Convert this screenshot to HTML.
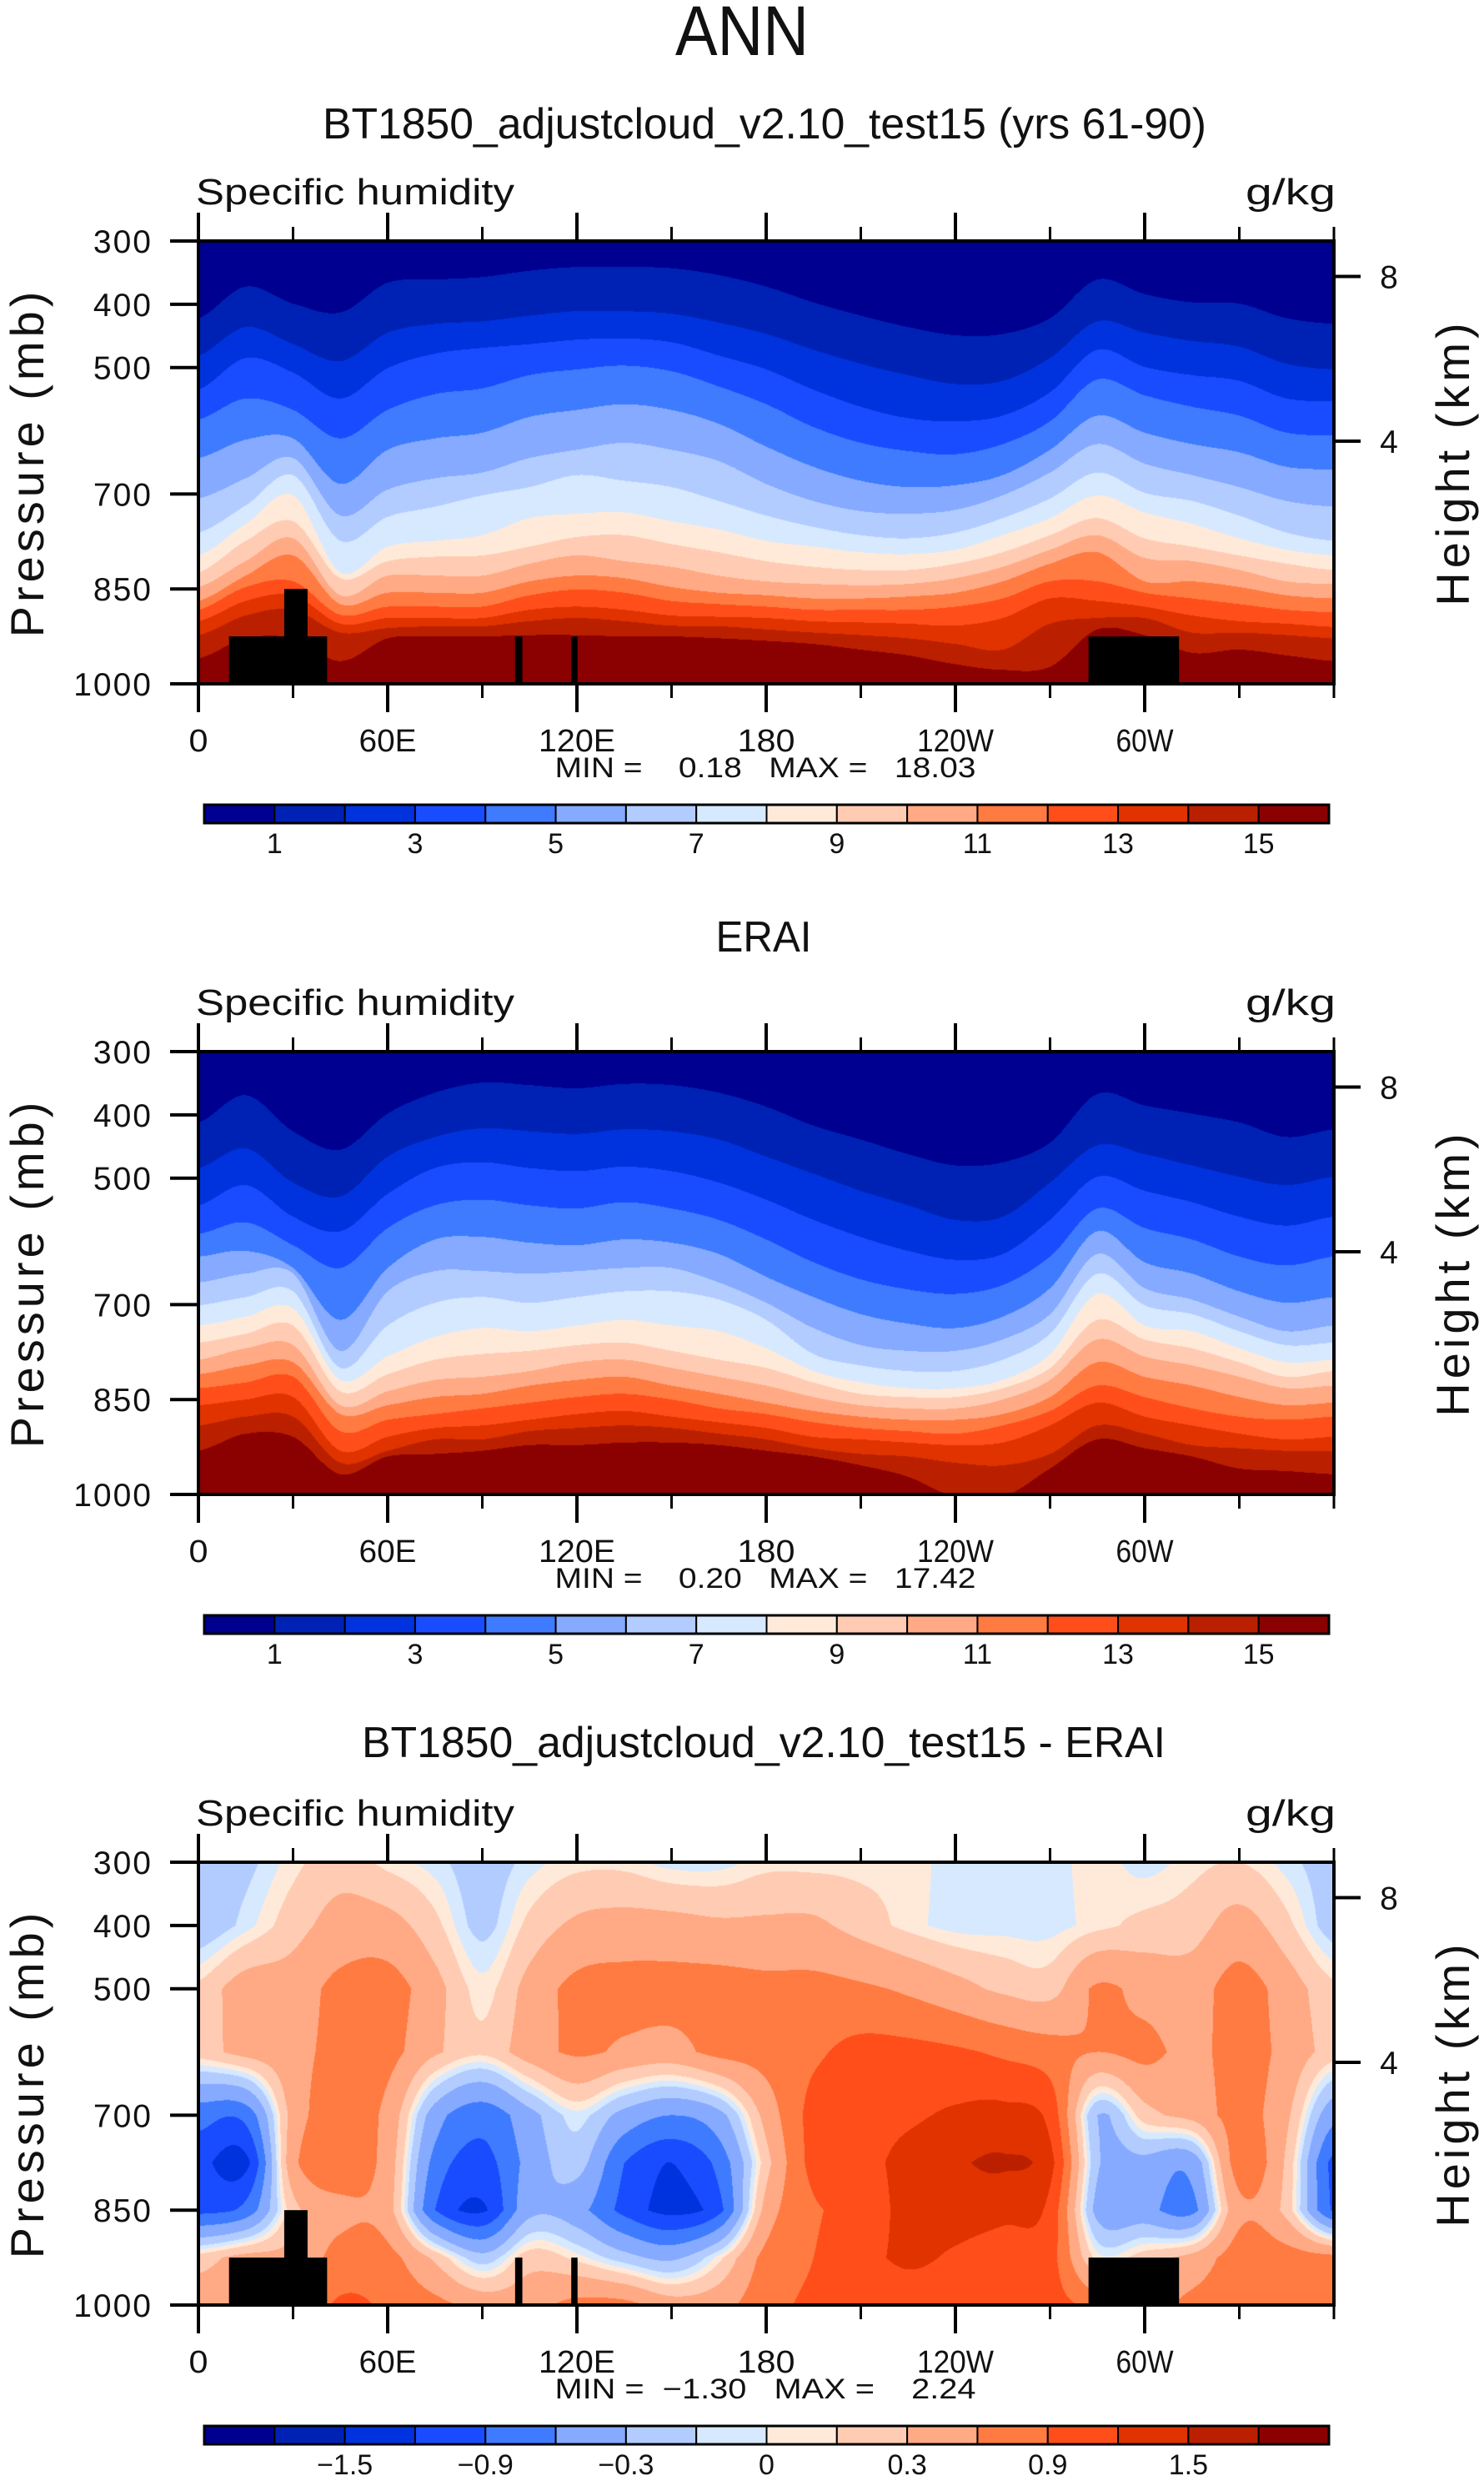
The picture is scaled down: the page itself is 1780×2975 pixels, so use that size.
<!DOCTYPE html>
<html><head><meta charset="utf-8">
<style>
html,body{margin:0;padding:0;background:#fff;}
#wrap{position:relative;width:1780px;height:2975px;overflow:hidden;}
canvas{position:absolute;}
svg{position:absolute;left:0;top:0;}
text{font-family:"Liberation Sans",sans-serif;fill:#111;}
</style></head>
<body>
<div id="wrap">
<canvas id="c1" width="1362" height="531" style="left:238px;top:289px"></canvas>
<canvas id="c2" width="1362" height="531" style="left:238px;top:1261px"></canvas>
<canvas id="c3" width="1362" height="531" style="left:238px;top:2233px"></canvas>
<svg id="svg" width="1780" height="2975" viewBox="0 0 1780 2975" xmlns="http://www.w3.org/2000/svg">
<text x="890" y="66" text-anchor="middle" font-size="84" textLength="160" lengthAdjust="spacingAndGlyphs">ANN</text>
<text x="917" y="166" text-anchor="middle" font-size="52" textLength="1060" lengthAdjust="spacingAndGlyphs">BT1850_adjustcloud_v2.10_test15 (yrs 61-90)</text>
<text x="916" y="1141" text-anchor="middle" font-size="52" textLength="115" lengthAdjust="spacingAndGlyphs">ERAI</text>
<text x="916" y="2107" text-anchor="middle" font-size="52" textLength="964" lengthAdjust="spacingAndGlyphs">BT1850_adjustcloud_v2.10_test15 - ERAI</text>
<g id="layer"></g>
</svg>
</div>
<script>
// ---------- data ----------
const lons = [0,15,30,45,60,75,90,105,120,135,150,165,180,195,210,225,240,255,270,285,300,315,330,345,360];
// pressure (mb) of the q = 1..15 g/kg isolines, model
const modelIso = [
[422,372,399,413,366,361,357,347,341,341,343,354,372,397,418,436,449,447,422,361,384,397,399,422,431],
[481,436,463,490,445,431,427,418,411,411,415,429,447,472,494,512,526,521,485,427,445,458,467,494,503],
[535,485,508,549,501,478,469,463,456,454,460,481,503,535,562,580,585,576,539,472,499,512,521,549,553],
[582,549,567,612,567,542,533,512,503,497,506,530,558,594,619,632,637,621,585,519,544,562,576,603,607],
[643,614,612,684,630,612,603,578,567,558,567,589,625,657,679,689,686,670,630,576,603,621,634,657,661],
[707,675,643,734,693,675,666,643,630,619,630,648,684,711,727,731,725,702,666,621,652,670,689,711,720],
[761,718,670,774,736,720,702,689,670,679,689,711,734,752,765,770,761,738,707,666,698,711,734,761,774],
[797,747,702,824,783,774,765,738,731,729,743,756,774,783,792,795,788,765,738,702,729,747,770,788,797],
[824,774,743,833,806,799,797,783,768,765,779,792,806,815,820,820,810,792,765,738,770,783,797,810,820],
[847,806,770,860,829,829,829,810,797,806,815,829,838,842,844,842,833,815,788,765,801,806,820,838,842],
[869,829,797,874,856,856,856,838,829,833,847,856,860,865,865,862,856,838,810,792,838,838,847,860,865],
[883,847,838,891,878,878,878,860,851,856,869,874,878,883,883,883,878,865,838,838,856,865,874,883,887],
[901,869,860,905,896,896,896,883,878,883,892,894,896,901,903,905,908,896,865,869,878,892,901,905,910],
[923,892,883,919,912,909,909,901,896,901,908,909,914,919,923,928,937,946,905,896,896,919,919,923,928],
[960,928,928,964,928,925,925,923,923,925,925,928,932,937,946,955,969,978,973,914,923,951,946,955,964]
];
// pressure (mb) of the q = 1..15 g/kg isolines, ERAI
const eraiIso = [
[412,369,426,455,398,365,349,353,358,351,353,365,387,417,439,462,480,475,444,367,385,398,412,435,423],
[484,453,507,529,466,435,421,426,430,423,426,439,466,493,520,543,566,561,507,448,462,480,498,511,498],
[543,511,561,584,525,484,475,484,489,482,489,507,534,566,593,615,629,620,566,498,520,538,561,575,561],
[588,570,606,642,579,543,534,543,548,538,548,566,597,633,660,676,683,669,624,548,579,597,624,638,624],
[624,615,642,724,642,597,593,602,606,597,602,620,656,688,715,730,737,719,674,584,633,651,679,697,688],
[665,651,651,773,679,647,647,651,647,642,642,665,697,737,764,773,773,755,715,620,674,692,719,742,733],
[701,688,679,800,733,697,688,697,688,679,679,692,724,778,796,805,805,787,746,651,701,715,742,764,760],
[733,719,706,819,782,751,737,742,733,724,733,742,769,805,823,832,832,819,778,683,733,742,769,791,787],
[760,746,733,837,810,787,778,773,764,760,773,787,800,823,841,846,846,832,800,724,755,769,791,814,805],
[787,769,764,859,837,819,814,805,791,787,800,814,828,846,859,864,864,850,819,755,782,796,814,832,828],
[810,796,791,873,859,846,841,828,819,814,828,841,855,868,877,882,882,873,846,791,814,828,846,859,855],
[832,823,814,900,882,873,864,855,846,841,850,864,873,886,895,900,904,891,868,828,846,864,877,882,877],
[859,850,846,931,909,895,891,882,873,868,877,886,895,909,913,918,922,918,891,855,877,891,904,913,909],
[891,877,877,950,931,913,913,900,895,891,895,904,913,927,936,940,950,954,936,891,904,922,927,931,931],
[931,904,909,968,940,936,931,922,922,918,918,922,931,940,954,972,1004,1004,959,913,927,940,959,963,968]
];
// difference (g/kg) on a lon x pressure grid
const diffLevels = [300,400,500,600,700,775,850,925,1000];
const diffValues = [
[-0.25,-0.15,0.05,0.2,0.05,-0.05,-0.2,-0.05,0.05,0.05,-0.05,-0.05,0.05,0.05,0.05,0.05,-0.05,-0.05,-0.05,0.05,-0.05,0.05,0.1,-0.05,-0.2],
[-0.25,-0.05,0.2,0.4,0.4,0.15,-0.15,0.15,0.35,0.4,0.4,0.35,0.35,0.35,0.2,0.05,-0.05,-0.05,-0.05,0.05,0.15,0.2,0.4,0.15,-0.2],
[0.15,0.45,0.45,0.7,0.75,0.4,0.05,0.4,0.7,0.75,0.75,0.75,0.7,0.7,0.65,0.55,0.4,0.25,0.2,0.65,0.5,0.45,0.75,0.45,0.15],
[0.2,0.4,0.5,0.7,0.7,0.35,0.15,0.45,0.65,0.55,0.5,0.7,0.75,0.85,1.0,1.0,0.95,0.85,0.75,0.6,0.7,0.5,0.75,0.5,0.2],
[-0.8,-0.8,0.4,0.75,0.5,-0.45,-0.8,-0.4,-0.05,-0.4,-0.6,-0.4,0.4,1.0,1.1,1.15,1.25,1.3,1.1,-0.3,0.2,0.4,0.7,0.35,-0.5],
[-1.1,-1.3,0.5,0.8,0.45,-0.7,-1.0,-0.5,-0.2,-0.9,-1.2,-0.8,0.2,1.0,1.1,1.3,1.45,1.55,1.3,-0.25,-0.4,-0.5,0.75,0.25,-1.0],
[-1.0,-0.8,0.2,0.5,0.4,-0.9,-1.25,-0.4,-0.5,-1.0,-1.3,-1.0,0.4,0.85,1.0,1.3,1.35,1.3,1.1,-0.4,-0.5,-0.7,0.5,0.2,-0.95],
[0.2,0.4,0.4,0.7,0.7,0.25,-0.2,0.2,0.05,-0.2,-0.35,0.05,0.7,0.9,1.1,1.25,1.15,1.0,1.0,0.05,0.2,0.4,0.75,0.75,0.7],
[0.5,0.6,0.6,0.95,0.85,0.7,0.5,0.5,0.7,0.7,0.45,0.5,0.8,0.95,1.0,1.05,1.0,0.95,1.0,0.8,0.5,0.7,0.8,0.8,0.75]
];
const diffBounds = [-1.8,-1.5,-1.2,-0.9,-0.6,-0.3,-0.1,0,0.1,0.3,0.6,0.9,1.2,1.5,1.8];
// topography masks: [lonStart, lonEnd, surface pressure]
const topoStart = [9.7,27.2,100.4,118.2,282.2];
const topoEnd = [40.8,34.6,102.7,120.2,310.9];
const topoP = [925,850,925,925,925];
const pressureTicks = [300,400,500,700,850,1000];
const heightTicks = [8,4];
const lonTickVals = [0,60,120,180,240,300];
const lonTickLabels = ["0","60E","120E","180","120W","60W"];
const lonMinor = [30,90,150,210,270,330,360];
const qLabels = ["1","3","5","7","9","11","13","15"];
const qLabelIdx = [1,3,5,7,9,11,13,15];
const dLabels = ["\u22121.5","\u22120.9","\u22120.3","0","0.3","0.9","1.5"];
const dLabelIdx = [2,4,6,8,10,12,14];
const colors = ["#000090","#0022B4","#0033DD","#1A4CFF","#3F7BFF","#85AAFF","#B3CCFF","#D6E9FF","#FFEADA","#FFCCB3","#FFAA85","#FF7B42","#FF4E1A","#E03300","#BA2000","#8B0000"];

// ---------- geometry ----------
const L = 238, W = 1362, H = 531;
const tops = [289,1261,2233];
const xOf = lon => L + lon / 360 * W;
const yOf = (top, p) => top + (p - 300) / 700 * H;
const rgb = colors.map(c => [parseInt(c.substr(1,2),16),parseInt(c.substr(3,2),16),parseInt(c.substr(5,2),16)]);

function cr(arr, lon){
  const t = lon / 15; let i = Math.floor(t); if (i >= 24) i = 23; const f = t - i;
  const p0 = arr[Math.max(i-1,0)], p1 = arr[i], p2 = arr[i+1], p3 = arr[Math.min(i+2,24)];
  return 0.5*((2*p1)+(-p0+p2)*f+(2*p0-5*p1+4*p2-p3)*f*f+(-p0+3*p1-3*p2+p3)*f*f*f);
}
function drawIso(id, iso){
  const cv = document.getElementById(id), ctx = cv.getContext('2d');
  const img = ctx.createImageData(W, H), d = img.data;
  for (let x = 0; x < W; x++){
    const lon = (x + 0.5) / W * 360;
    const ps = iso.map(a => cr(a, lon));
    for (let y = 0; y < H; y++){
      const p = 300 + (y + 0.5) / H * 700;
      let b = 0; for (let k = 0; k < ps.length; k++) if (p >= ps[k]) b++;
      const c = rgb[b], o = (y*W + x)*4;
      d[o]=c[0]; d[o+1]=c[1]; d[o+2]=c[2]; d[o+3]=255;
    }
  }
  ctx.putImageData(img,0,0);
}
function drawDiff(id){
  const cv = document.getElementById(id), ctx = cv.getContext('2d');
  const img = ctx.createImageData(W, H), d = img.data;
  for (let x = 0; x < W; x++){
    const lon = (x + 0.5) / W * 360;
    const col = diffValues.map(r => cr(r, lon));
    for (let y = 0; y < H; y++){
      const p = 300 + (y + 0.5) / H * 700;
      let j = 0; while (j < diffLevels.length - 2 && p > diffLevels[j+1]) j++;
      const f = (p - diffLevels[j]) / (diffLevels[j+1] - diffLevels[j]);
      const v = col[j] * (1 - f) + col[j+1] * f;
      let b = 0; for (let k = 0; k < diffBounds.length; k++) if (v >= diffBounds[k]) b++;
      const c = rgb[b], o = (y*W + x)*4;
      d[o]=c[0]; d[o+1]=c[1]; d[o+2]=c[2]; d[o+3]=255;
    }
  }
  ctx.putImageData(img,0,0);
}
drawIso('c1', modelIso);
drawIso('c2', eraiIso);
drawDiff('c3');

// ---------- svg decorations ----------
const NS = "http://www.w3.org/2000/svg";
const layer = document.getElementById('layer');
function mk(tag, attrs, parent){
  const e = document.createElementNS(NS, tag);
  for (const k in attrs) e.setAttribute(k, attrs[k]);
  (parent || layer).appendChild(e); return e;
}
function heightToP(h){ return 1013.25 * Math.pow(1 - 2.25577e-5 * h * 1000, 5.25588); }
const minmax = ["MIN =    0.18   MAX =   18.03","MIN =    0.20   MAX =   17.42","MIN =  \u22121.30   MAX =    2.24"];
const panelNames = ["model","erai","difference"];

tops.forEach((T, pi) => {
  const g = mk('g', {});
  
  
  if (pi !== 1){
    topoStart.forEach((s, i) => {
      const r = mk('rect', {x: xOf(s), y: yOf(T, topoP[i]), width: xOf(topoEnd[i]) - xOf(s), height: yOf(T,1000) - yOf(T, topoP[i]), fill: '#000'}, g);
      
      
    });
  }
  const fr = mk('rect', {x: L, y: T, width: W, height: H, fill: 'none', stroke: '#000', 'stroke-width': 4}, g);
  
  
  pressureTicks.forEach(p => {
    const y = yOf(T, p);
    const tk = mk('line', {x1: L - 34, x2: L, y1: y, y2: y, stroke: '#000', 'stroke-width': 4}, g);
    
    
    const tx = mk('text', {x: 183, y: y + 14, 'text-anchor': 'end', 'font-size': 39, 'letter-spacing': 2}, g);
    tx.textContent = p;
    
    
  });
  heightTicks.forEach(h => {
    const y = yOf(T, heightToP(h));
    const tk = mk('line', {x1: L + W, x2: L + W + 32, y1: y, y2: y, stroke: '#000', 'stroke-width': 4}, g);
    
    
    const tx = mk('text', {x: 1666, y: y + 14, 'text-anchor': 'middle', 'font-size': 39}, g);
    tx.textContent = h;
    
    
  });
  lonTickVals.forEach((lon, i) => {
    const x = xOf(lon);
    const a = mk('line', {x1: x, x2: x, y1: T - 34, y2: T, stroke: '#000', 'stroke-width': 4}, g);
    
    
    const b = mk('line', {x1: x, x2: x, y1: T + H, y2: T + H + 34, stroke: '#000', 'stroke-width': 4}, g);
    
    
    const lab = lonTickLabels[i];
    const tx = mk('text', {x: x, y: T + 612, 'text-anchor': 'middle', 'font-size': 38, textLength: lab.length * 23, lengthAdjust: 'spacingAndGlyphs'}, g);
    tx.textContent = lab;
    
    
  });
  lonMinor.forEach(lon => {
    const x = xOf(lon);
    const a = mk('line', {x1: x, x2: x, y1: T - 17, y2: T, stroke: '#000', 'stroke-width': 3}, g);
    
    
    const b = mk('line', {x1: x, x2: x, y1: T + H, y2: T + H + 17, stroke: '#000', 'stroke-width': 3}, g);
    
    
  });
  const sh = mk('text', {x: 235, y: T - 44, 'font-size': 44, textLength: 382, lengthAdjust: 'spacingAndGlyphs'}, g);
  sh.textContent = 'Specific humidity';
  
  
  const un = mk('text', {x: 1602, y: T - 44, 'text-anchor': 'end', 'font-size': 44, textLength: 108, lengthAdjust: 'spacingAndGlyphs'}, g);
  un.textContent = 'g/kg';
  
  
  const yl = mk('text', {x: 0, y: 0, 'text-anchor': 'middle', 'font-size': 56, 'letter-spacing': 5, transform: 'translate(52,' + (T + H/2) + ') rotate(-90)'}, g);
  yl.textContent = 'Pressure (mb)';
  
  
  const yr = mk('text', {x: 0, y: 0, 'text-anchor': 'middle', 'font-size': 56, 'letter-spacing': 5, transform: 'translate(1762,' + (T + H/2) + ') rotate(-90)'}, g);
  yr.textContent = 'Height (km)';
  
  
  const mm = mk('text', {x: 918, y: T + 643, 'text-anchor': 'middle', 'font-size': 34, textLength: 505, lengthAdjust: 'spacingAndGlyphs', style: 'white-space:pre'}, g);
  mm.textContent = minmax[pi];
  
  
  const cbL = 245, cbR = 1594, cbT = T + 676, cbH = 22, bw = (cbR - cbL) / 16;
  const cb = mk('g', {}, g);
  
  
  colors.forEach((c, i) => {
    const r = mk('rect', {x: cbL + i * bw, y: cbT, width: bw, height: cbH, fill: c, stroke: '#000', 'stroke-width': 2}, cb);
    
    
  });
  const ob = mk('rect', {x: cbL, y: cbT, width: cbR - cbL, height: cbH, fill: 'none', stroke: '#000', 'stroke-width': 3}, cb);
  
  
  const labs = pi === 2 ? dLabels : qLabels, idx = pi === 2 ? dLabelIdx : qLabelIdx;
  labs.forEach((t, i) => {
    const tx = mk('text', {x: cbL + idx[i] * bw, y: cbT + 58, 'text-anchor': 'middle', 'font-size': 34}, cb);
    tx.textContent = t;
    
    
  });
});
</script>
</body></html>
